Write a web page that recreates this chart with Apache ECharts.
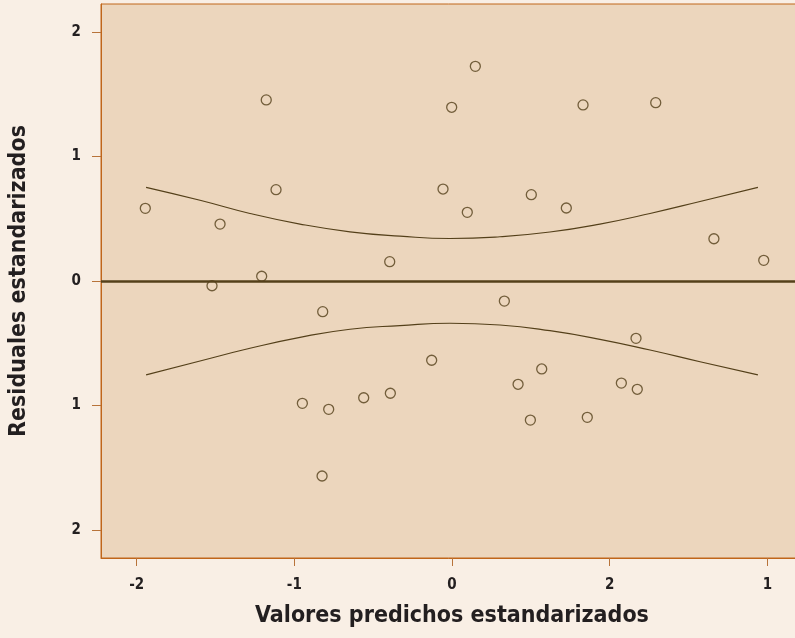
<!DOCTYPE html>
<html><head><meta charset="utf-8">
<script src="https://cdn.jsdelivr.net/npm/echarts@6/dist/echarts.min.js"></script>
<style>html,body{margin:0;padding:0;background:#f9efe5;}#c{width:795px;height:638px;}</style>
</head><body><div id="c"></div>
<script>
// Tick values and labels (as printed in the original)
const xTickValues = [-2, -1, 0, 1, 2];
const xTickLabels = ['-2', '-1', '0', '2', '1'];
const yTickValues = [2, 1, 0, -1, -2];
const yTickLabels = ['2', '1', '0', '1', '2'];

// Residual points: [predicted, residual]
const pointsX = [-1.945,-1.471,-1.178,-1.116,-1.207,-0.395,-0.057,-0.002,0.097,0.148,0.503,0.725,0.831,1.292,1.661,1.977,
  -1.522,-0.820,-0.949,-0.782,-0.560,-0.391,-0.824,-0.129,0.332,0.419,0.497,0.569,0.858,1.074,1.167,1.175];
const pointsY = [0.583,0.457,1.453,0.733,0.038,0.155,0.738,1.394,0.551,1.723,0.693,0.586,1.413,1.431,0.339,0.166,
  -0.038,-0.246,-0.982,-1.030,-0.937,-0.901,-1.565,-0.636,-0.161,-0.829,-1.116,-0.706,-1.094,-0.819,-0.460,-0.869];

// Confidence band curves
const bandX = [-1.94,-1.598,-1.281,-0.964,-0.647,-0.330,-0.013,0.304,0.621,0.938,1.256,1.573,1.94];
const upperY = [0.752,0.648,0.542,0.457,0.395,0.360,0.341,0.355,0.393,0.457,0.542,0.638,0.752];
const lowerY = [-0.754,-0.642,-0.540,-0.452,-0.387,-0.358,-0.339,-0.353,-0.399,-0.468,-0.554,-0.648,-0.754];

const xName = 'Valores predichos estandarizados';
const yName = 'Residuales estandarizados';

const font = '"Liberation Sans Narrow", "DejaVu Sans Condensed", "Liberation Sans", sans-serif';
const dark = '#54401a';
const border = '#c0661a';

const chart = echarts.init(document.getElementById('c'), null, {renderer: 'canvas'});
chart.setOption({
  backgroundColor: '#f9efe5',
  animation: false,
  grid: {left: 101, top: 4, width: 702, height: 554, show: true, outerBoundsMode: 'none', containLabel: false,
    backgroundColor: '#ecd6bd', borderColor: border, borderWidth: 1},
  xAxis: {
    type: 'value', min: -2.226, max: 2.226,
    name: xName, nameLocation: 'middle', nameGap: 47,
    nameTextStyle: {fontFamily: font, fontWeight: 'bold', fontSize: 23, color: '#231f20'},
    axisLine: {onZero: false, lineStyle: {color: border, width: 1}},
    axisTick: {show: true, length: 8, customValues: xTickValues, lineStyle: {color: '#b8733a'}},
    axisLabel: {customValues: xTickValues, margin: 20, fontFamily: font, fontWeight: 'bold', fontSize: 15, color: '#231f20',
      formatter: v => xTickLabels[xTickValues.indexOf(Math.round(v))]},
    splitLine: {show: false}
  },
  yAxis: {
    type: 'value', min: -2.223, max: 2.223,
    name: yName, nameLocation: 'middle', nameGap: 70, nameRotate: 90,
    nameTextStyle: {fontFamily: font, fontWeight: 'bold', fontSize: 23, color: '#231f20'},
    axisLine: {show: true, onZero: false, lineStyle: {color: border, width: 1}},
    axisTick: {show: true, length: 9, customValues: yTickValues, lineStyle: {color: '#b8733a'}},
    axisLabel: {customValues: yTickValues, margin: 20, fontFamily: font, fontWeight: 'bold', fontSize: 15, color: '#231f20',
      formatter: v => yTickLabels[yTickValues.indexOf(Math.round(v))]},
    splitLine: {show: false}
  },
  series: [
    {type: 'line', data: bandX.map((x, i) => [x, upperY[i]]), smooth: true, symbol: 'none',
      lineStyle: {color: dark, width: 1.2}, silent: true},
    {type: 'line', data: bandX.map((x, i) => [x, lowerY[i]]), smooth: true, symbol: 'none',
      lineStyle: {color: dark, width: 1.2}, silent: true},
    {type: 'scatter', data: pointsX.map((x, i) => [x, pointsY[i]]), symbol: 'circle', symbolSize: 10,
      itemStyle: {color: 'rgba(0,0,0,0)', borderColor: dark, borderWidth: 1.3},
      markLine: {silent: true, symbol: 'none', label: {show: false},
        lineStyle: {color: dark, width: 2.5, type: 'solid'}, data: [{yAxis: 0}]}, z: 3}
  ]
});
</script></body></html>
